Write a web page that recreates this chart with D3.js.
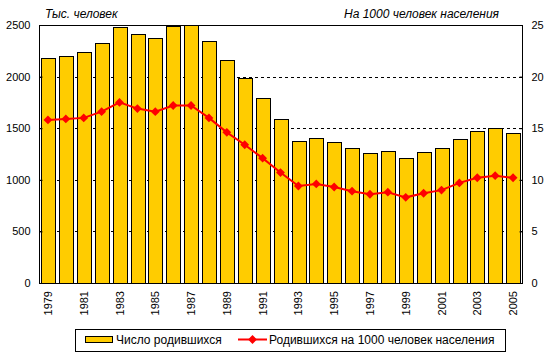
<!DOCTYPE html>
<html>
<head>
<meta charset="utf-8">
<script src="https://cdn.jsdelivr.net/npm/d3@7"></script>
<style>
  body { margin: 0; background: #fff; }
  svg text { font-family: "Liberation Sans", Arial, sans-serif; fill: #000; }
</style>
</head>
<body>
<div id="chart"></div>
<script>
// years, births (thousands) and births per 1000 population
var years = [1979, 1980, 1981, 1982, 1983, 1984, 1985, 1986, 1987, 1988, 1989, 1990, 1991, 1992,
  1993, 1994, 1995, 1996, 1997, 1998, 1999, 2000, 2001, 2002, 2003, 2004, 2005];
var births = [2178.5, 2202.8, 2236.6, 2328.0, 2478.3, 2409.6, 2375.1, 2485.9, 2499.9, 2348.5, 2160.6, 1988.9, 1794.6, 1587.6,
  1378.9, 1408.2, 1363.8, 1304.6, 1259.9, 1283.3, 1214.7, 1266.8, 1311.6, 1397.0, 1477.3, 1502.5, 1457.4];
var rates = [15.8, 15.9, 16.0, 16.6, 17.5, 16.9, 16.6, 17.2, 17.2, 16.0, 14.6, 13.4, 12.1, 10.7,
  9.4, 9.6, 9.3, 8.9, 8.6, 8.8, 8.3, 8.7, 9.0, 9.7, 10.2, 10.4, 10.2];
var leftTicks = [0, 500, 1000, 1500, 2000, 2500];
var rightTicks = [0, 5, 10, 15, 20, 25];
var gridTicks = [500, 1000, 1500, 2000];

var width = 549, height = 360;
var plot = {left: 39, right: 522, top: 25, bottom: 283};

var svg = d3.select("#chart").append("svg")
  .attr("width", width)
  .attr("height", height);

var x = d3.scaleBand()
  .domain(years)
  .range([plot.left, plot.right])
  .paddingInner(0.23)
  .paddingOuter(0.115);

var yLeft = d3.scaleLinear().domain([0, 2500]).range([plot.bottom, plot.top]);
var yRight = d3.scaleLinear().domain([0, 25]).range([plot.bottom, plot.top]);

// dashed grid behind the bars
svg.append("g").selectAll("line")
  .data(gridTicks)
  .enter().append("line")
  .attr("x1", plot.left).attr("x2", plot.right)
  .attr("y1", function(d){ return Math.round(yLeft(d)) + 0.5; })
  .attr("y2", function(d){ return Math.round(yLeft(d)) + 0.5; })
  .attr("stroke", "#000")
  .attr("stroke-dasharray", "3,3");

// bars
svg.append("g").selectAll("rect")
  .data(years)
  .enter().append("rect")
  .attr("x", function(d){ return Math.round(x(d)) + 0.5; })
  .attr("y", function(d, i){ return Math.round(yLeft(births[i])) + 0.5; })
  .attr("width", Math.round(x.bandwidth()))
  .attr("height", function(d, i){ return plot.bottom - Math.round(yLeft(births[i])); })
  .attr("fill", "#FFCC00")
  .attr("stroke", "#000")
  .attr("stroke-width", 1);

// plot frame
svg.append("rect")
  .attr("x", plot.left + 0.5).attr("y", plot.top + 0.5)
  .attr("width", plot.right - plot.left).attr("height", plot.bottom - plot.top)
  .attr("fill", "none").attr("stroke", "#000");

// left axis
var leftAxis = svg.append("g")
  .attr("transform", "translate(" + (plot.left + 0.5) + ",0)")
  .call(d3.axisLeft(yLeft).tickValues(leftTicks).tickSize(-3).tickPadding(9).tickFormat(d3.format("d")));
leftAxis.select(".domain").remove();
leftAxis.selectAll("text").style("font-size", "11px").style("font-family", "Liberation Sans, Arial, sans-serif");
leftAxis.selectAll("line").attr("stroke", "#000");

// right axis
var rightAxis = svg.append("g")
  .attr("transform", "translate(" + (plot.right + 0.5) + ",0)")
  .call(d3.axisRight(yRight).tickValues(rightTicks).tickSize(-3).tickPadding(9));
rightAxis.select(".domain").remove();
rightAxis.selectAll("text").style("font-size", "11px").style("font-family", "Liberation Sans, Arial, sans-serif");
rightAxis.selectAll("line").attr("stroke", "#000");

// year labels, every other year, rotated
svg.append("g").selectAll("text")
  .data(years.filter(function(d, i){ return i % 2 == 0; }))
  .enter().append("text")
  .attr("transform", function(d){
    return "translate(" + (x(d) + x.bandwidth() / 2 + 4) + "," + (plot.bottom + 8) + ") rotate(-90)";
  })
  .attr("text-anchor", "end")
  .style("font-size", "11px")
  .text(function(d){ return d; });

// rate line with diamond markers
var line = d3.line()
  .x(function(d, i){ return x(years[i]) + x.bandwidth() / 2; })
  .y(function(d){ return yRight(d); });

svg.append("path")
  .datum(rates)
  .attr("d", line)
  .attr("fill", "none")
  .attr("stroke", "#FF0000")
  .attr("stroke-width", 2);

var diamond = d3.symbol().type(d3.symbolDiamond2).size(50);
svg.append("g").selectAll("path")
  .data(rates)
  .enter().append("path")
  .attr("transform", function(d, i){
    return "translate(" + (x(years[i]) + x.bandwidth() / 2) + "," + yRight(d) + ")";
  })
  .attr("d", diamond)
  .attr("fill", "#FF0000");

// axis titles
svg.append("text")
  .attr("x", 45).attr("y", 18)
  .style("font-size", "12px").style("font-style", "italic")
  .text("Тыс. человек");
svg.append("text")
  .attr("x", 499).attr("y", 18)
  .attr("text-anchor", "end")
  .style("font-size", "12px").style("font-style", "italic")
  .text("На 1000 человек населения");

// legend
var legend = svg.append("g");
legend.append("rect")
  .attr("x", 75.5).attr("y", 329.5).attr("width", 430).attr("height", 22)
  .attr("fill", "#fff").attr("stroke", "#000");
legend.append("rect")
  .attr("x", 85.5).attr("y", 336.5).attr("width", 27).attr("height", 6)
  .attr("fill", "#FFCC00").attr("stroke", "#000");
legend.append("text")
  .attr("x", 116).attr("y", 344)
  .style("font-size", "12px")
  .text("Число родившихся");
legend.append("line")
  .attr("x1", 238).attr("x2", 267).attr("y1", 339.5).attr("y2", 339.5)
  .attr("stroke", "#FF0000").attr("stroke-width", 2);
legend.append("path")
  .attr("transform", "translate(252.5,339.5)")
  .attr("d", diamond)
  .attr("fill", "#FF0000");
legend.append("text")
  .attr("x", 269).attr("y", 344)
  .style("font-size", "12px")
  .text("Родившихся на 1000 человек населения");
</script>
</body>
</html>
